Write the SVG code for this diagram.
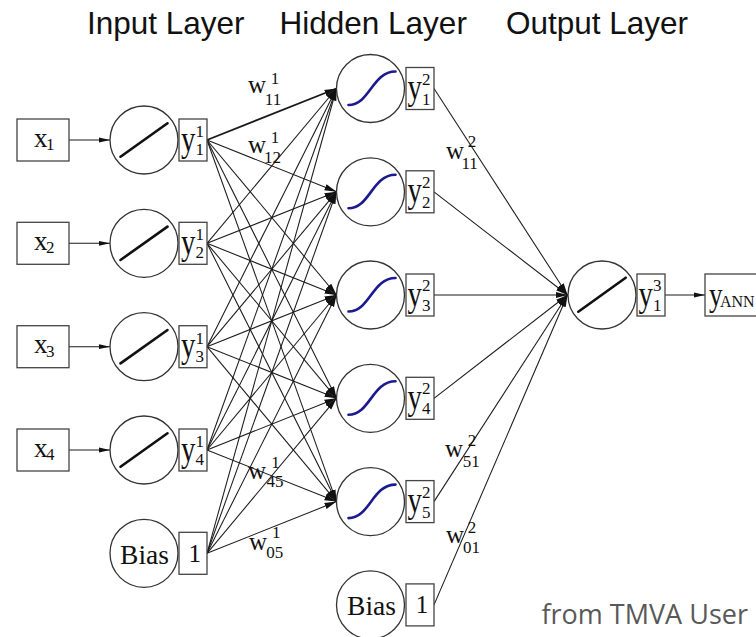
<svg xmlns="http://www.w3.org/2000/svg" width="756" height="637" viewBox="0 0 756 637">
<defs>
<style>
.title{font-family:"Liberation Sans",Arial,sans-serif;font-size:31.5px;fill:#111}
.s{font-family:"Liberation Serif","Times New Roman",serif;fill:#111}
.w{font-size:25px}
.d{font-size:17px}
.node{fill:#fff;stroke:#333;stroke-width:1.3}
.box{fill:#fff;stroke:#444;stroke-width:1.3}
.lin{stroke:#111;stroke-width:2.6;stroke-linecap:round}
.sig{fill:none;stroke:#1b1b8f;stroke-width:2.6;stroke-linecap:round}
.e{stroke:#1a1a1a;stroke-width:1.05;fill:none;marker-end:url(#ah)}
.es{stroke:#1a1a1a;stroke-width:1.05;fill:none;marker-end:url(#ahs)}
.note{font-family:"Open Sans","Liberation Sans",sans-serif;font-size:27px;fill:#595959}
</style>
<marker id="ah" markerUnits="userSpaceOnUse" markerWidth="12" markerHeight="8" refX="12" refY="4" orient="auto"><path d="M0,0.8 L12,4 L0,7.2 z" fill="#111"/></marker>
<marker id="ahs" markerUnits="userSpaceOnUse" markerWidth="11" markerHeight="8" refX="11" refY="4" orient="auto"><path d="M0,1.6 L11,4 L0,6.4 z" fill="#111"/></marker>
</defs>
<rect width="756" height="637" fill="#fff"/>
<g id="titles">
<text class="title" x="87" y="34">Input Layer</text>
<text class="title" x="279.5" y="34">Hidden Layer</text>
<text class="title" x="506" y="34">Output Layer</text>
</g>
<g id="connectors">
<line class="es" x1="69" y1="140" x2="110" y2="140"/>
<line class="es" x1="69" y1="243.3" x2="110" y2="243.3"/>
<line class="es" x1="69" y1="346.7" x2="110" y2="346.7"/>
<line class="es" x1="69" y1="450" x2="110" y2="450"/>
<line class="e" x1="207" y1="140" x2="336.5" y2="88.5" style="stroke-width:1.8"/>
<line class="e" x1="207" y1="140" x2="336.5" y2="191.8"/>
<line class="e" x1="207" y1="140" x2="336.5" y2="295"/>
<line class="e" x1="207" y1="140" x2="336.5" y2="398.3"/>
<line class="e" x1="207" y1="140" x2="336.5" y2="501.6"/>
<line class="e" x1="207" y1="243.3" x2="336.5" y2="88.5"/>
<line class="e" x1="207" y1="243.3" x2="336.5" y2="191.8"/>
<line class="e" x1="207" y1="243.3" x2="336.5" y2="295"/>
<line class="e" x1="207" y1="243.3" x2="336.5" y2="398.3"/>
<line class="e" x1="207" y1="243.3" x2="336.5" y2="501.6"/>
<line class="e" x1="207" y1="346.7" x2="336.5" y2="88.5"/>
<line class="e" x1="207" y1="346.7" x2="336.5" y2="191.8"/>
<line class="e" x1="207" y1="346.7" x2="336.5" y2="295"/>
<line class="e" x1="207" y1="346.7" x2="336.5" y2="398.3"/>
<line class="e" x1="207" y1="346.7" x2="336.5" y2="501.6"/>
<line class="e" x1="207" y1="450" x2="336.5" y2="88.5"/>
<line class="e" x1="207" y1="450" x2="336.5" y2="191.8"/>
<line class="e" x1="207" y1="450" x2="336.5" y2="295"/>
<line class="e" x1="207" y1="450" x2="336.5" y2="398.3"/>
<line class="e" x1="207" y1="450" x2="336.5" y2="501.6"/>
<line class="e" x1="207" y1="553.3" x2="336.5" y2="88.5"/>
<line class="e" x1="207" y1="553.3" x2="336.5" y2="191.8"/>
<line class="e" x1="207" y1="553.3" x2="336.5" y2="295"/>
<line class="e" x1="207" y1="553.3" x2="336.5" y2="398.3"/>
<line class="e" x1="207" y1="553.3" x2="336.5" y2="501.6"/>
<line class="e" x1="434" y1="88.5" x2="567.5" y2="295"/>
<line class="e" x1="434" y1="191.8" x2="567.5" y2="295"/>
<line class="e" x1="434" y1="295" x2="567.5" y2="295"/>
<line class="e" x1="434" y1="398.3" x2="567.5" y2="295"/>
<line class="e" x1="434" y1="501.6" x2="567.5" y2="295"/>
<line class="e" x1="434" y1="604.9" x2="567.5" y2="295"/>
<line class="es" x1="665" y1="295" x2="705" y2="295"/>
</g>
<g id="weights" class="s">
<text class="w" x="248" y="93.3">w</text><text class="d" x="270.8" y="84">1</text><text class="d" x="264.8" y="105">11</text>
<text class="w" x="248" y="152.7">w</text><text class="d" x="270.8" y="143">1</text><text class="d" x="264" y="163.3">12</text>
<text class="w" x="248" y="479">w</text><text class="d" x="271.3" y="467.7">1</text><text class="d" x="266.4" y="487.3">45</text>
<text class="w" x="249" y="550">w</text><text class="d" x="272" y="538.3">1</text><text class="d" x="266.2" y="558.3">05</text>
<text class="w" x="446" y="159.3">w</text><text class="d" x="467.8" y="146.7">2</text><text class="d" x="461.4" y="169">11</text>
<text class="w" x="445" y="456.7">w</text><text class="d" x="467.8" y="446">2</text><text class="d" x="462.8" y="467.3">51</text>
<text class="w" x="446" y="542.7">w</text><text class="d" x="467.8" y="532.7">2</text><text class="d" x="462.9" y="553.3">01</text>
</g>
<g id="x1" transform="translate(0,140)"><rect class="box" x="17" y="-21" width="52" height="42"/><text class="s" x="34" y="6.5" font-size="27">x</text><text class="s d" x="46" y="10">1</text></g>
<g id="x2" transform="translate(0,243.3)"><rect class="box" x="17" y="-21" width="52" height="42"/><text class="s" x="34" y="6.5" font-size="27">x</text><text class="s d" x="46" y="10">2</text></g>
<g id="x3" transform="translate(0,346.7)"><rect class="box" x="17" y="-21" width="52" height="42"/><text class="s" x="34" y="6.5" font-size="27">x</text><text class="s d" x="46" y="10">3</text></g>
<g id="x4" transform="translate(0,450)"><rect class="box" x="17" y="-21" width="52" height="42"/><text class="s" x="34" y="6.5" font-size="27">x</text><text class="s d" x="46" y="10">4</text></g>
<g id="in1" transform="translate(0,140)"><circle class="node" cx="144" cy="0" r="34"/><line class="lin" x1="120.5" y1="16.7" x2="167.5" y2="-16.7"/><rect class="box" x="179" y="-21" width="28" height="42"/><text class="s" transform="translate(181,10.5) scale(0.82,1)" font-size="35">y</text><text class="s d" x="195.5" y="-3">1</text><text class="s d" x="195.5" y="15">1</text></g>
<g id="in2" transform="translate(0,243.3)"><circle class="node" cx="144" cy="0" r="34"/><line class="lin" x1="120.5" y1="16.7" x2="167.5" y2="-16.7"/><rect class="box" x="179" y="-21" width="28" height="42"/><text class="s" transform="translate(181,10.5) scale(0.82,1)" font-size="35">y</text><text class="s d" x="195.5" y="-3">1</text><text class="s d" x="195.5" y="15">2</text></g>
<g id="in3" transform="translate(0,346.7)"><circle class="node" cx="144" cy="0" r="34"/><line class="lin" x1="120.5" y1="16.7" x2="167.5" y2="-16.7"/><rect class="box" x="179" y="-21" width="28" height="42"/><text class="s" transform="translate(181,10.5) scale(0.82,1)" font-size="35">y</text><text class="s d" x="195.5" y="-3">1</text><text class="s d" x="195.5" y="15">3</text></g>
<g id="in4" transform="translate(0,450)"><circle class="node" cx="144" cy="0" r="34"/><line class="lin" x1="120.5" y1="16.7" x2="167.5" y2="-16.7"/><rect class="box" x="179" y="-21" width="28" height="42"/><text class="s" transform="translate(181,10.5) scale(0.82,1)" font-size="35">y</text><text class="s d" x="195.5" y="-3">1</text><text class="s d" x="195.5" y="15">4</text></g>
<g id="inbias" transform="translate(0,553.3)"><circle class="node" cx="144" cy="0" r="34"/><text class="s" x="144.5" y="10.7" font-size="27.5" text-anchor="middle">Bias</text><rect class="box" x="179" y="-21" width="28" height="42"/><text class="s" x="194.8" y="8.4" font-size="25" text-anchor="middle">1</text></g>
<g id="h1" transform="translate(0,88.5)"><circle class="node" cx="370.5" cy="0" r="34"/><path class="sig" d="M348.5,16.5 C370,16.5 372,-17 395.5,-17"/><rect class="box" x="406" y="-21" width="28" height="42"/><text class="s" transform="translate(407.5,10.5) scale(0.82,1)" font-size="35">y</text><text class="s d" x="422" y="-4">2</text><text class="s d" x="422" y="16">1</text></g>
<g id="h2" transform="translate(0,191.8)"><circle class="node" cx="370.5" cy="0" r="34"/><path class="sig" d="M348.5,16.5 C370,16.5 372,-17 395.5,-17"/><rect class="box" x="406" y="-21" width="28" height="42"/><text class="s" transform="translate(407.5,10.5) scale(0.82,1)" font-size="35">y</text><text class="s d" x="422" y="-4">2</text><text class="s d" x="422" y="16">2</text></g>
<g id="h3" transform="translate(0,295)"><circle class="node" cx="370.5" cy="0" r="34"/><path class="sig" d="M348.5,16.5 C370,16.5 372,-17 395.5,-17"/><rect class="box" x="406" y="-21" width="28" height="42"/><text class="s" transform="translate(407.5,10.5) scale(0.82,1)" font-size="35">y</text><text class="s d" x="422" y="-4">2</text><text class="s d" x="422" y="16">3</text></g>
<g id="h4" transform="translate(0,398.3)"><circle class="node" cx="370.5" cy="0" r="34"/><path class="sig" d="M348.5,16.5 C370,16.5 372,-17 395.5,-17"/><rect class="box" x="406" y="-21" width="28" height="42"/><text class="s" transform="translate(407.5,10.5) scale(0.82,1)" font-size="35">y</text><text class="s d" x="422" y="-4">2</text><text class="s d" x="422" y="16">4</text></g>
<g id="h5" transform="translate(0,501.6)"><circle class="node" cx="370.5" cy="0" r="34"/><path class="sig" d="M348.5,16.5 C370,16.5 372,-17 395.5,-17"/><rect class="box" x="406" y="-21" width="28" height="42"/><text class="s" transform="translate(407.5,10.5) scale(0.82,1)" font-size="35">y</text><text class="s d" x="422" y="-4">2</text><text class="s d" x="422" y="16">5</text></g>
<g id="hbias" transform="translate(0,604.9)"><circle class="node" cx="370.5" cy="0" r="34"/><text class="s" x="371.5" y="10.3" font-size="27.5" text-anchor="middle">Bias</text><rect class="box" x="406" y="-21" width="28" height="42"/><text class="s" x="422" y="8" font-size="25" text-anchor="middle">1</text></g>
<g id="out" transform="translate(0,295)"><circle class="node" cx="602" cy="0" r="34"/><line class="lin" x1="578.3" y1="16.7" x2="625.7" y2="-17.3"/><rect class="box" x="637" y="-21" width="28" height="42"/><text class="s" transform="translate(638.5,10.5) scale(0.82,1)" font-size="35">y</text><text class="s d" x="653" y="-4">3</text><text class="s d" x="653" y="16">1</text></g>
<g id="yann" transform="translate(0,295)"><rect class="box" x="705" y="-21" width="70" height="42"/><text class="s" transform="translate(709,10.5) scale(0.8,1)" font-size="34">y</text><text class="s" x="720" y="11.5" font-size="16">ANN</text></g>
<text class="note" x="541.5" y="624">from TMVA User</text>
</svg>
